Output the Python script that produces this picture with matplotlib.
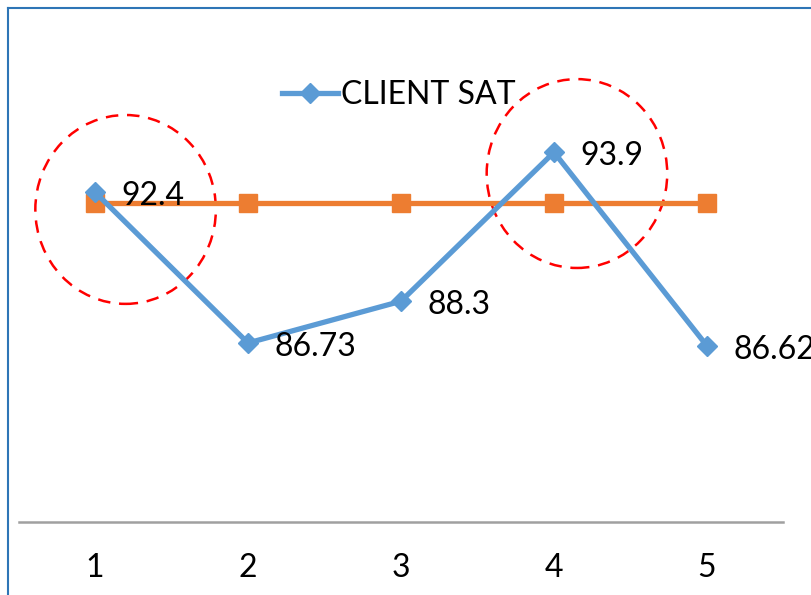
import matplotlib.pyplot as plt
from matplotlib.lines import Line2D
from matplotlib.patches import Ellipse

# survey rounds and scores
rounds = [1, 2, 3, 4, 5]
client_sat = [92.4, 86.73, 88.3, 93.9, 86.62]
target = [92, 92, 92, 92, 92]
value_labels = ["92.4", "86.73", "88.3", "93.9", "86.62"]

# highlighted rounds: (x, y, width, height) in data units
highlights = [(1.2, 91.75, 1.18, 7.1), (4.15, 93.1, 1.18, 7.1)]

BLUE = "#5B9BD5"
ORANGE = "#ED7D31"
FONT = ["Lato", "DejaVu Sans"]
FS = 23

W, H = 812, 595
fig = plt.figure(figsize=(W / 100, H / 100), dpi=100)

# axes box: x 0.5..5.5 spans px 18.5..783.5, y 80 at px 522
px_per_unit = 26.6
y_top = 80 + 522 / px_per_unit
ax = fig.add_axes([18.5 / W, (H - 522) / H, 765 / W, 522 / H])
ax.set_xlim(0.5, 5.5)
ax.set_ylim(80, y_top)

ax.plot(rounds, target, color=ORANGE, lw=3.8, marker="s", ms=13,
        solid_capstyle="butt", zorder=3)
ax.plot(rounds, client_sat, color=BLUE, lw=3.8, marker="D", ms=10,
        label="CLIENT SAT", zorder=4)

for x, y, t in zip(rounds, client_sat, value_labels):
    ax.annotate(t, (x, y), xytext=(19, -3), textcoords="offset points",
                ha="left", va="center", fontsize=FS, family=FONT,
                color="black", zorder=5)

for cx, cy, w, h in highlights:
    ax.add_patch(Ellipse((cx, cy), w, h, fill=False, edgecolor="#FF0000",
                         lw=1.8, ls=(0, (5, 3.5)), zorder=2, clip_on=False))

for side in ["top", "right", "left"]:
    ax.spines[side].set_visible(False)
ax.spines["bottom"].set_color("#A0A0A0")
ax.spines["bottom"].set_linewidth(1.8)
ax.set_yticks([])
ax.set_xticks(rounds)
ax.tick_params(axis="x", length=0, pad=22)
for lbl in ax.get_xticklabels():
    lbl.set_fontsize(FS)
    lbl.set_family(FONT)

leg = ax.legend(loc="center left", bbox_to_anchor=(282 / W, 1 - 95 / H),
                bbox_transform=fig.transFigure, frameon=False, borderpad=0,
                borderaxespad=0, prop={"family": FONT, "size": FS},
                handlelength=1.75, handletextpad=0.1)

# chart frame (top and left edges)
fig.add_artist(Line2D([8 / W, 1], [1 - 8 / H, 1 - 8 / H], color="#2E75B6", lw=1.5))
fig.add_artist(Line2D([8 / W, 8 / W], [0, 1 - 8 / H], color="#2E75B6", lw=1.5))

fig.savefig("out.png", dpi=100, facecolor="white")
